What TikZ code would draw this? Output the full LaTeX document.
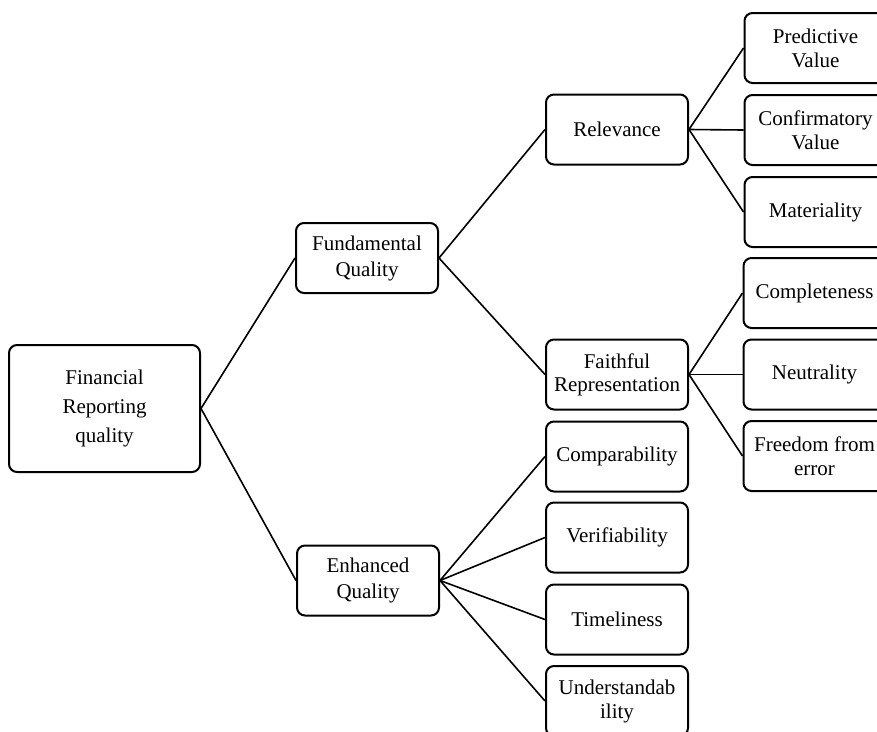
\documentclass[tikz,border=0pt]{standalone}
\usepackage{fontspec}
\setmainfont{Liberation Serif}
\begin{document}
\begin{tikzpicture}[x=1pt,y=-1pt,
  box/.style={draw, line width=2pt, rounded corners=8pt, minimum width=142pt,
    minimum height=70pt, align=center, inner sep=0pt,
    font=\fontsize{21}{25}\selectfont},
  link/.style={line width=1.6pt}]
\useasboundingbox (0,0) rectangle (877,731);
\clip (0,0) rectangle (877,731);
\node[box, minimum width=191pt, minimum height=127pt, font=\fontsize{21}{29}\selectfont] (frq) at (104.5,408.5) {Financial\\Reporting\\quality};
\node[box, font=\fontsize{21}{26}\selectfont] (fund) at (367,258) {Fundamental\\Quality};
\node[box, font=\fontsize{21}{26}\selectfont] (enh) at (368,580.5) {Enhanced\\Quality};
\node[box] (rel) at (617,129.5) {Relevance};
\node[box, font=\fontsize{21}{23}\selectfont] (faith) at (617,374.5) {Faithful\\Representation};
\node[box] (comp) at (617,456.5) {Comparability};
\node[box] (ver) at (617,537.5) {Verifiability};
\node[box] (time) at (617,619.5) {Timeliness};
\node[box, font=\fontsize{21}{24}\selectfont] (und) at (617,701) {Understandab\\ility};
\node[box, font=\fontsize{21}{24}\selectfont] (pred) at (815.5,48) {Predictive\\Value};
\node[box, font=\fontsize{21}{24}\selectfont] (conf) at (815.5,130) {Confirmatory\\Value};
\node[box] (mat) at (815.5,212) {Materiality};
\node[box] (compl) at (814.5,293) {Completeness};
\node[box] (neut) at (814.5,374.5) {Neutrality};
\node[box, font=\fontsize{21}{24}\selectfont] (free) at (814.5,456) {Freedom from\\error};
\draw[link] (frq.east) -- (fund.west);
\draw[link] (frq.east) -- (enh.west);
\draw[link] (fund.east) -- (rel.west);
\draw[link] (fund.east) -- (faith.west);
\draw[link] (rel.east) -- (pred.west);
\draw[link] (rel.east) -- (conf.west);
\draw[link] (rel.east) -- (mat.west);
\draw[link] (faith.east) -- (compl.west);
\draw[link] (faith.east) -- (neut.west);
\draw[link] (faith.east) -- (free.west);
\draw[link] (enh.east) -- (comp.west);
\draw[link] (enh.east) -- (ver.west);
\draw[link] (enh.east) -- (time.west);
\draw[link] (enh.east) -- (und.west);
\end{tikzpicture}
\end{document}
